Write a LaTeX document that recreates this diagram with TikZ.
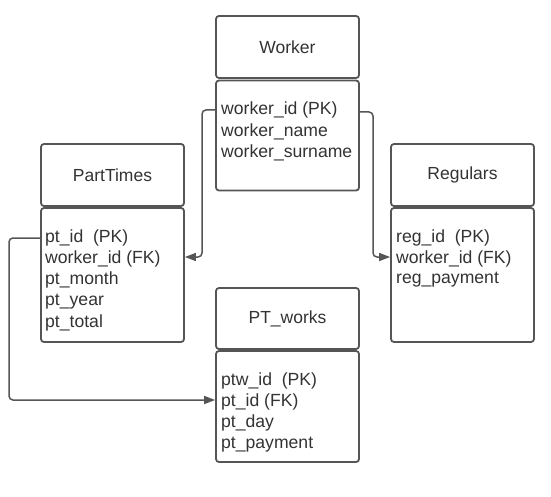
\documentclass[tikz,border=0pt]{standalone}
\usepackage{fontspec}
\setmainfont{Liberation Sans}
\usetikzlibrary{arrows.meta}
\definecolor{boxline}{HTML}{555555}
\definecolor{txt}{HTML}{333333}
\tikzset{
  x=1pt,y=-1pt,
  ebox/.style={draw=boxline,line width=1.8pt,rounded corners=3pt,minimum width=143pt,inner sep=0pt},
  ttl/.style={font=\fontsize{17.5}{20}\selectfont,text=txt},
  fld/.style={anchor=west,inner sep=0pt,font=\fontsize{17.6}{20}\selectfont,text=txt},
  conn/.style={draw=boxline,line width=1.5pt,rounded corners=4pt,-{Triangle[length=11pt,width=8pt]}}
}
\begin{document}
\begin{tikzpicture}
\useasboundingbox[fill=white] (0,0) rectangle (551,497);
% Worker
\node[ebox,minimum height=62pt] (wh) at (287.5,47) {};
\node[ttl] (wht) at (287.5,47) {Worker};
\node[ebox,minimum height=110pt] (wb) at (287.5,135.5) {};
\node[fld] (w1) at (221,110) {worker\_id (PK)};
\node[fld] (w2) at (221,131.5) {worker\_name};
\node[fld] (w3) at (221,153) {worker\_surname};
% PartTimes
\node[ebox,minimum height=62pt] (ph) at (112.5,175) {};
\node[ttl] (pht) at (112.5,175) {PartTimes};
\node[ebox,minimum height=134pt] (pb) at (112.5,275) {};
\node[fld] (p1) at (45,238) {pt\_id\ \ (PK)};
\node[fld] (p2) at (45,259) {worker\_id (FK)};
\node[fld] (p3) at (45,280) {pt\_month};
\node[fld] (p4) at (45,301.5) {pt\_year};
\node[fld] (p5) at (45,323) {pt\_total};
% Regulars
\node[ebox,minimum height=62pt] (rh) at (462.5,175) {};
\node[ttl] (rht) at (462.5,175) {Regulars};
\node[ebox,minimum height=134pt] (rb) at (462.5,275) {};
\node[fld] (r1) at (396,238) {reg\_id\ \ (PK)};
\node[fld] (r2) at (396,259) {worker\_id (FK)};
\node[fld] (r3) at (396,280) {reg\_payment};
% PT_works
\node[ebox,minimum height=61pt] (th) at (287.5,318.5) {};
\node[ttl] (tht) at (287.5,318.5) {PT\_works};
\node[ebox,minimum height=111pt] (tb) at (287.5,406.5) {};
\node[fld] (t1) at (221,381) {ptw\_id\ \ (PK)};
\node[fld] (t2) at (221,402) {pt\_id (FK)};
\node[fld] (t3) at (221,423) {pt\_day};
\node[fld] (t4) at (221,445) {pt\_payment};
% connectors
\coordinate (c1) at (202,110);
\coordinate (c2) at (373,112);
\coordinate (c3) at (9,238);
\coordinate (e1) at (0,257);
\coordinate (e3) at (0,400);
\draw[conn] (wb.west |- c1) -- (c1) -- (c1 |- e1) -- (pb.east |- e1);
\draw[conn] (wb.east |- c2) -- (c2) -- (c2 |- e1) -- (rb.west |- e1);
\draw[conn] (pb.west |- c3) -- (c3) -- (c3 |- e3) -- (tb.west |- e3);
\end{tikzpicture}
\end{document}
